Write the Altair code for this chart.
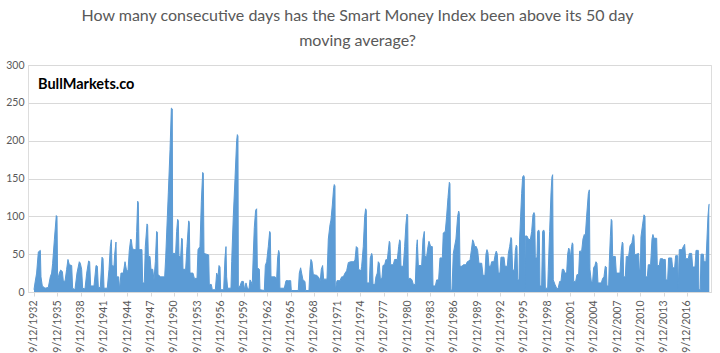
import altair as alt
import pandas as pd

title_lines = ["How many consecutive days has the Smart Money Index been above its 50 day",
               "moving average?"]
watermark = "BullMarkets.co"

# tick labels (every third year, 12 September)
tick_years = [1932, 1935, 1938, 1941, 1944, 1947, 1950, 1953, 1956, 1959, 1962, 1965,
              1968, 1971, 1974, 1977, 1980, 1983, 1986, 1989, 1992, 1995, 1998, 2001,
              2004, 2007, 2010, 2013, 2016]

# outline of the series (decimal year, consecutive days)
years_1932_1959 = [
    1932.70, 1932.83, 1933.04, 1933.26, 1933.52, 1933.60, 1933.77, 1934.12, 1934.54, 1934.80,
    1934.97, 1935.10, 1935.32, 1935.57, 1935.66, 1935.74, 1935.96, 1936.13, 1936.35, 1936.47,
    1936.69, 1936.90, 1937.07, 1937.25, 1937.55, 1937.67, 1937.97, 1938.23, 1938.53, 1938.66,
    1938.83, 1938.96, 1939.26, 1939.48, 1939.73, 1939.86, 1939.99, 1940.42, 1940.68, 1940.85,
    1940.98, 1941.23, 1941.45, 1941.58, 1941.71, 1942.13, 1942.35, 1942.52, 1942.65, 1942.73,
    1942.99, 1943.08, 1943.25, 1943.33, 1943.59, 1943.72, 1943.89, 1944.19, 1944.41, 1944.58,
    1944.79, 1944.96, 1945.14, 1945.22, 1945.35,
    1945.56, 1945.82, 1945.91, 1946.04, 1946.12, 1946.21, 1946.59, 1946.68, 1946.89, 1947.02,
    1947.24, 1947.32, 1947.41, 1947.62, 1947.75, 1947.97, 1948.14, 1948.31, 1948.48, 1948.57,
    1948.65, 1948.99, 1949.51, 1949.64, 1949.77, 1949.98, 1950.20, 1950.37, 1950.49, 1950.54,
    1950.92, 1951.05, 1951.18, 1951.27, 1951.35, 1951.57, 1951.70, 1951.78, 1951.87, 1952.21,
    1952.38, 1952.60, 1952.68, 1952.77, 1953.15, 1953.33, 1953.67, 1953.80, 1954.05, 1954.23,
    1954.40, 1954.48, 1954.57, 1955.17, 1955.25, 1955.51, 1955.64, 1956.03, 1956.20, 1956.37,
    1956.50, 1956.63, 1956.71, 1957.10, 1957.27, 1957.40, 1957.48, 1957.61, 1958.04, 1958.13,
    1958.34, 1958.56, 1958.77, 1958.86, 1958.94, 1958.99, 1959.20, 1959.41, 1959.63, 1959.80,
]
days_1932_1959 = [
    3, 12, 25, 53, 55, 20, 8, 5, 6, 20,
    25, 38, 69, 101, 100, 16, 25, 29, 27, 15,
    14, 30, 43, 36, 35, 5, 3, 25, 40, 38,
    30, 5, 4, 25, 41, 40, 8, 8, 35, 34,
    6, 6, 46, 44, 5, 5, 30, 60, 69, 35,
    34, 50, 66, 20, 20, 3, 25, 25, 40, 30,
    27, 55, 70, 69, 58,
    56, 56, 80, 120, 118, 56, 56, 12, 12, 60,
    90, 88, 47, 47, 30, 30, 16, 40, 80, 79,
    23, 20, 20, 45, 78, 131, 188, 243, 242, 51,
    51, 80, 96, 94, 47, 47, 71, 70, 30, 30,
    60, 94, 92, 25, 25, 18, 18, 56, 60, 120,
    158, 157, 51, 49, 10, 10, 3, 3, 25, 20,
    35, 33, 3, 3, 45, 60, 20, 5, 5, 40,
    100, 150, 200, 208, 206, 5, 8, 14, 14, 3,
]

years_1960_1989 = [
    1959.97, 1960.18, 1960.36, 1960.49, 1960.61, 1960.78, 1960.91, 1961.04, 1961.21, 1961.34,
    1961.43, 1961.69, 1961.77, 1962.33, 1962.46, 1962.63, 1962.84, 1963.02, 1963.10, 1963.19,
    1963.70, 1963.92, 1964.04, 1964.17, 1964.26, 1964.34, 1964.90, 1965.12, 1965.42, 1965.72,
    1965.80, 1966.70, 1966.83, 1967.00, 1967.13, 1967.30, 1967.56, 1967.65, 1968.07, 1968.20,
    1968.33, 1968.46, 1968.63, 1969.06, 1969.28, 1969.53, 1969.66, 1969.83, 1969.96, 1970.39,
    1970.56, 1970.78, 1970.90, 1971.08, 1971.25, 1971.33, 1971.42, 1971.46, 1971.68, 1972.06,
    1972.28, 1972.49, 1972.71, 1972.92, 1973.14, 1973.48, 1973.78, 1973.99, 1974.16, 1974.34,
    1974.46, 1974.76,
    1974.85, 1975.06, 1975.24, 1975.36, 1975.45, 1975.53, 1975.84, 1975.96, 1976.14, 1976.22,
    1976.31, 1976.56, 1976.69, 1976.86, 1976.99, 1977.12, 1977.25, 1977.46, 1977.59, 1977.81,
    1977.98, 1978.15, 1978.28, 1978.41, 1978.49, 1978.58, 1978.92, 1979.09, 1979.44, 1979.61,
    1979.74, 1979.82, 1979.91, 1980.21, 1980.38, 1980.55, 1980.68, 1980.77, 1980.85, 1981.15,
    1981.32, 1981.50, 1981.75, 1981.92, 1982.01, 1982.14, 1982.57, 1982.74, 1982.91, 1982.99,
    1983.21, 1983.38, 1983.51, 1983.73, 1983.94, 1984.03, 1984.33, 1984.50, 1984.75, 1984.93,
    1985.23, 1985.35, 1985.61, 1985.78, 1985.96, 1986.13, 1986.21, 1986.30, 1986.47, 1986.64,
    1986.98, 1987.20, 1987.33, 1987.41, 1987.50, 1987.76, 1987.93, 1988.27, 1988.44, 1988.79,
    1988.96, 1989.13, 1989.26, 1989.39,
]
days_1960_1989 = [
    12, 4, 4, 16, 14, 10, 50, 85, 108, 110,
    32, 30, 3, 2, 35, 40, 60, 80, 78, 20,
    20, 18, 45, 55, 52, 5, 5, 15, 15, 15,
    2, 2, 25, 32, 25, 16, 14, 2, 2, 30,
    43, 40, 23, 22, 20, 15, 30, 35, 17, 17,
    70, 89, 95, 115, 138, 142, 140, 3, 15, 15,
    20, 20, 25, 28, 39, 40, 40, 42, 60, 58,
    30, 28,
    34, 60, 100, 110, 108, 12, 12, 45, 51, 48,
    10, 10, 20, 25, 40, 38, 18, 18, 35, 36,
    43, 42, 55, 67, 65, 36, 36, 43, 43, 60,
    69, 67, 34, 34, 60, 90, 103, 101, 18, 18,
    16, 10, 10, 60, 69, 35, 35, 70, 80, 47,
    47, 60, 67, 60, 60, 8, 8, 16, 16, 45,
    45, 78, 80, 100, 125, 145, 143, 2, 3, 51,
    70, 100, 107, 104, 34, 34, 36, 36, 40, 42,
    55, 69, 66, 60,
]

years_1989_2019 = [
    1989.60, 1989.77, 1989.94, 1990.29, 1990.46, 1990.71, 1990.84, 1990.97, 1991.10, 1991.23,
    1991.44, 1991.57, 1991.87, 1992.04, 1992.17, 1992.30, 1992.43, 1992.64, 1992.77, 1993.16,
    1993.29, 1993.59, 1993.72, 1993.89, 1994.06, 1994.14, 1994.27, 1994.49, 1994.62, 1994.74,
    1994.83, 1994.92, 1995.09, 1995.17, 1995.30, 1995.43, 1995.56, 1995.69, 1995.77, 1995.82,
    1995.90, 1996.12, 1996.29, 1996.55, 1996.72, 1996.89, 1997.02, 1997.11, 1997.19, 1997.40,
    1997.49, 1997.62, 1997.70, 1997.79, 1998.00, 1998.13, 1998.26, 1998.35, 1998.48, 1998.78,
    1998.86, 1999.03, 1999.21, 1999.33, 1999.42, 1999.50, 1999.72, 1999.98, 2000.15, 2000.32,
    2000.49, 2000.66, 2000.83, 2001.01, 2001.22, 2001.35, 2001.48, 2001.61, 2001.73, 2001.86,
    2001.95, 2002.03, 2002.12, 2002.38, 2002.55, 2002.76, 2002.89, 2003.15, 2003.32, 2003.49,
    2003.62, 2003.79, 2004.01, 2004.14, 2004.22,
    2004.39, 2004.56, 2004.69, 2004.86, 2004.99, 2005.12, 2005.25, 2005.68, 2005.85, 2006.02,
    2006.19, 2006.32, 2006.41, 2006.62, 2006.71, 2006.84, 2006.96, 2007.05, 2007.14, 2007.48,
    2007.61, 2008.08, 2008.25, 2008.38, 2008.47, 2008.55, 2008.77, 2008.89, 2009.19, 2009.37,
    2009.62, 2009.79, 2009.88, 2009.97, 2010.48, 2010.57, 2010.70, 2010.78, 2011.00, 2011.17,
    2011.30, 2011.38, 2011.60, 2011.72, 2012.02, 2012.20, 2012.32, 2012.45, 2012.80, 2012.88,
    2013.14, 2013.27, 2013.57, 2013.65, 2013.91, 2013.99, 2014.21, 2014.34, 2014.73, 2014.85,
    2015.11, 2015.24, 2015.50, 2015.58, 2015.71, 2016.05, 2016.23, 2016.40, 2016.53, 2016.87,
    2017.00, 2017.30, 2017.43, 2017.73, 2017.86, 2018.16, 2018.24, 2018.41, 2018.50, 2018.80,
    2018.89, 2019.14, 2019.27, 2019.40, 2019.53, 2019.57,
]
days_1989_2019 = [
    60, 55, 38, 38, 22, 22, 50, 56, 52, 34,
    34, 40, 40, 50, 54, 50, 25, 25, 46, 46,
    34, 34, 51, 60, 72, 70, 30, 28, 55, 62,
    60, 16, 16, 70, 100, 130, 152, 154, 152, 4,
    74, 74, 70, 69, 80, 102, 105, 102, 45, 45,
    80, 82, 80, 8, 8, 80, 82, 80, 5, 5,
    30, 80, 131, 152, 155, 16, 10, 4, 6, 14,
    14, 30, 30, 25, 25, 50, 58, 56, 45, 60,
    65, 63, 14, 14, 23, 23, 54, 54, 70, 76,
    74, 100, 130, 135, 30,
    14, 14, 32, 35, 40, 38, 12, 12, 18, 20,
    34, 33, 8, 8, 40, 73, 96, 94, 47, 47,
    25, 25, 55, 66, 64, 20, 20, 47, 47, 61,
    65, 76, 74, 49, 51, 30, 30, 73, 90, 102,
    100, 20, 20, 36, 36, 70, 76, 71, 71, 35,
    35, 44, 44, 43, 43, 16, 16, 45, 45, 32,
    32, 48, 48, 5, 56, 56, 60, 63, 44, 44,
    51, 51, 33, 33, 55, 55, 3, 3, 50, 50,
    40, 40, 70, 100, 116, 116,
]

df = pd.DataFrame({
    "year": years_1932_1959 + years_1960_1989 + years_1989_2019,
    "days": days_1932_1959 + days_1960_1989 + days_1989_2019,
})

tick_pos = [y + 0.7 for y in tick_years]
GRAY = "#595959"
FONT = "Lato"

x_enc = alt.X(
    "year:Q",
    scale=alt.Scale(domain=[1931.93, 2019.79], nice=False, zero=False),
    axis=alt.Axis(
        title=None, values=tick_pos, labelExpr="'9/12/' + floor(datum.value)",
        labelAngle=-90, labelAlign="right", labelBaseline="middle",
        labelColor=GRAY, labelFont=FONT, labelFontSize=10.5, labelPadding=4,
        tickSize=4, tickColor="#d9d9d9", domainColor="#d9d9d9", grid=False,
        labelOverlap=False, labelFlush=False,
    ),
)
y_enc = alt.Y(
    "days:Q",
    scale=alt.Scale(domain=[0, 300], nice=False),
    axis=alt.Axis(
        title=None, values=[0, 50, 100, 150, 200, 250, 300], labelColor=GRAY,
        labelFont=FONT, labelFontSize=10.5, labelPadding=4, ticks=False, domain=False,
        gridColor="#d9d9d9", gridWidth=1,
    ),
)

area = alt.Chart(df).mark_area(
    color="#5B9BD5", opacity=1, fillOpacity=1,
    line={"color": "#5B9BD5", "strokeWidth": 1},
).encode(x=x_enc, y=y_enc)

mark_df = pd.DataFrame({"t": [watermark]})
label = alt.Chart(mark_df).mark_text(
    align="left", baseline="middle", font=FONT, fontSize=14.5, fontWeight="bold", color="black"
).encode(text="t:N", x=alt.value(10), y=alt.value(20))

chart = alt.layer(area, label).properties(
    width=683, height=227,
    padding={"left": 28, "top": 65, "right": 9, "bottom": 61},
    autosize=alt.AutoSizeParams(type="none"),
    title=alt.TitleParams(
        text=title_lines, anchor="middle", fontSize=16, font=FONT, fontWeight="normal",
        color=GRAY, lineHeight=25.5, offset=11, dx=-12,
    ),
).configure_view(stroke=None).configure(background="white")

chart.save("out.html", embed_options={"renderer": "svg", "actions": False})
